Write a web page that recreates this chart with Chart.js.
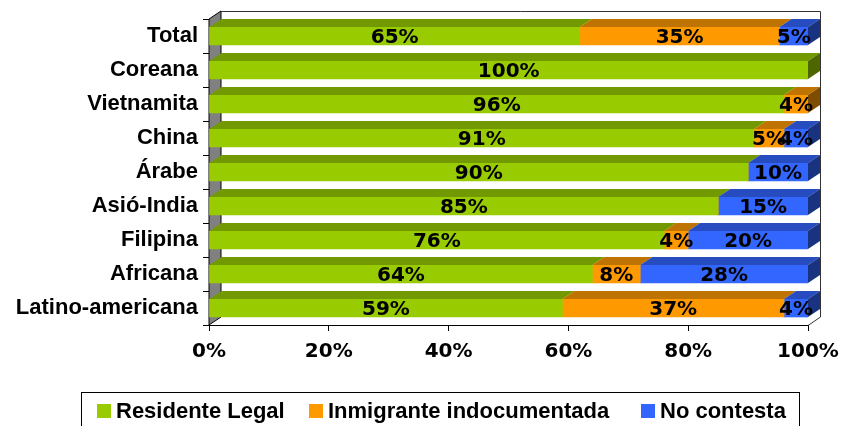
<!DOCTYPE html>
<html>
<head>
<meta charset="utf-8">
<script src="https://cdn.jsdelivr.net/npm/chart.js@4.4.0/dist/chart.umd.min.js"></script>
<style>
  html, body { margin: 0; padding: 0; background: #fff; }
  #wrap { width: 841px; height: 426px; position: relative; }
</style>
</head>
<body>
<div id="wrap"><canvas id="c" width="841" height="426"></canvas></div>
<script>
const categories = ['Total', 'Coreana', 'Vietnamita', 'China', 'Árabe', 'Asió-India', 'Filipina', 'Africana', 'Latino-americana']
const residenteLegal = [65, 100, 96, 91, 90, 85, 76, 64, 59]
const inmigrante = [35, 0, 4, 5, 0, 0, 4, 8, 37]
const noContesta = [5, 0, 0, 4, 10, 15, 20, 28, 4]
const seriesNames = ['Residente Legal', 'Inmigrante indocumentada', 'No contesta']
const xTicks = [0, 20, 40, 60, 80, 100]

const raw = [residenteLegal, inmigrante, noContesta]
const front = ['#99CC00', '#FF9900', '#3366FF']
const topFace = ['#739900', '#BF7300', '#264CBF']
const sideFace = ['#4D6600', '#804D00', '#1A3380']

const totals = categories.map((c, i) => raw.reduce((s, arr) => s + arr[i], 0))

const NUM = 'bold 20px "DejaVu Sans"'
const DX = 12, DY = 8

// fake 3d: walls, top and side faces, value labels, boxed legend
const fake3d = {
  id: 'fake3d',
  beforeDatasetsDraw(chart) {
    const {ctx, chartArea: a} = chart
    ctx.save()
    // gray side wall
    ctx.fillStyle = '#808080'
    ctx.beginPath()
    ctx.moveTo(a.left, a.top)
    ctx.lineTo(a.left + DX, a.top - DY)
    ctx.lineTo(a.left + DX, a.bottom - DY)
    ctx.lineTo(a.left, a.bottom)
    ctx.closePath()
    ctx.fill()
    ctx.strokeStyle = '#000'
    ctx.lineWidth = 1
    ctx.stroke()
    // back wall frame
    ctx.strokeStyle = '#333'
    ctx.beginPath()
    ctx.moveTo(a.left + DX, a.top - DY + 0.5)
    ctx.lineTo(a.right + DX + 0.5, a.top - DY + 0.5)
    ctx.lineTo(a.right + DX + 0.5, a.bottom - DY)
    ctx.lineTo(a.right, a.bottom + 0.5)
    ctx.stroke()
    ctx.restore()
  },
  afterDatasetsDraw(chart) {
    const {ctx} = chart
    ctx.save()
    categories.forEach((c, i) => {
      let last = null
      chart.data.datasets.forEach((ds, d) => {
        const bar = chart.getDatasetMeta(d).data[i]
        if (!ds.data[i]) return
        const x0 = Math.min(bar.base, bar.x), x1 = Math.max(bar.base, bar.x)
        const yt = bar.y - bar.height / 2
        ctx.fillStyle = topFace[d]
        ctx.beginPath()
        ctx.moveTo(x0, yt)
        ctx.lineTo(x1, yt)
        ctx.lineTo(x1 + DX, yt - DY)
        ctx.lineTo(x0 + DX, yt - DY)
        ctx.closePath()
        ctx.fill()
        last = {d, x1, yt, yb: bar.y + bar.height / 2}
      })
      if (last) {
        ctx.fillStyle = sideFace[last.d]
        ctx.beginPath()
        ctx.moveTo(last.x1, last.yt)
        ctx.lineTo(last.x1 + DX, last.yt - DY)
        ctx.lineTo(last.x1 + DX, last.yb - DY)
        ctx.lineTo(last.x1, last.yb)
        ctx.closePath()
        ctx.fill()
      }
    })
    // value labels
    ctx.font = NUM
    ctx.fillStyle = '#000'
    ctx.textAlign = 'center'
    ctx.textBaseline = 'middle'
    chart.data.datasets.forEach((ds, d) => {
      chart.getDatasetMeta(d).data.forEach((bar, i) => {
        if (!raw[d][i]) return
        ctx.fillText(raw[d][i] + '%', (bar.base + bar.x) / 2, bar.y + 2)
      })
    })
    ctx.restore()
  },
  afterDraw(chart) {
    const {ctx} = chart
    ctx.save()
    ctx.font = 'bold 22px "Liberation Sans"'
    ctx.strokeStyle = '#000'
    ctx.lineWidth = 1
    ctx.strokeRect(81.5, 392.5, 718, 40)
    const itemX = [97, 309, 641]
    const cy = 411
    ctx.textBaseline = 'middle'
    ctx.textAlign = 'left'
    seriesNames.forEach((n, k) => {
      ctx.fillStyle = front[k]
      ctx.fillRect(itemX[k], cy - 7, 14, 14)
      ctx.fillStyle = '#000'
      ctx.fillText(n, itemX[k] + 19, cy + 1)
    })
    ctx.restore()
  }
}

new Chart(document.getElementById('c'), {
  type: 'bar',
  data: {
    labels: categories,
    datasets: raw.map((arr, d) => ({
      label: seriesNames[d],
      data: arr.map((v, i) => v / totals[i] * 100),
      backgroundColor: front[d],
      borderWidth: 0,
      barThickness: 18
    }))
  },
  options: {
    indexAxis: 'y',
    responsive: false,
    animation: false,
    layout: {padding: {left: 0, right: 33, top: 19, bottom: 56}},
    plugins: {legend: {display: false}, tooltip: {enabled: false}},
    scales: {
      x: {
        stacked: true,
        min: 0,
        max: 100,
        afterBuildTicks: s => { s.ticks = xTicks.map(v => ({value: v})) },
        afterFit: s => { s.height = 45; s.paddingLeft = 0; s.paddingRight = 0 },
        grid: {drawOnChartArea: false, tickLength: 6, color: '#000', offset: false},
        border: {color: '#000'},
        ticks: {color: '#000', font: {family: 'DejaVu Sans', size: 20, weight: 'bold'}, padding: 9, callback: v => v + '%', maxRotation: 0}
      },
      y: {
        stacked: true,
        afterFit: s => { s.width = 209 },
        grid: {drawOnChartArea: false, tickLength: 6, color: '#000', offset: true},
        border: {color: '#000'},
        ticks: {color: '#000', font: {family: 'Liberation Sans', size: 22, weight: 'bold'}, padding: 5}
      }
    }
  },
  plugins: [fake3d]
})
</script>
</body>
</html>
